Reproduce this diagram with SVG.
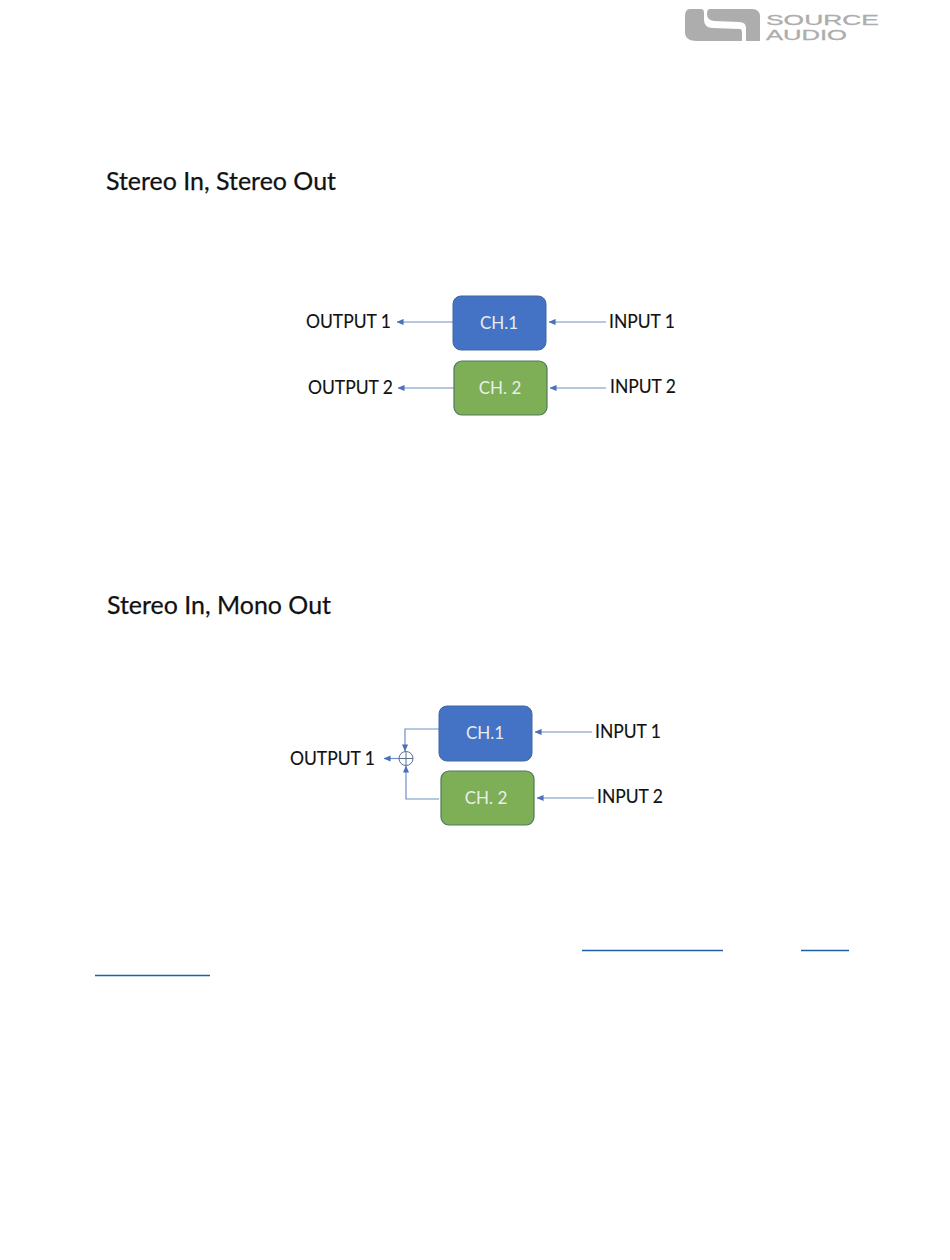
<svg xmlns="http://www.w3.org/2000/svg" width="950" height="1260" viewBox="0 0 950 1260">
<style>
text{font-family:Lato,"Liberation Sans",sans-serif;fill:#111}
.h{font-size:25.500px;stroke:#111;stroke-width:.25}
.l{font-size:19px;stroke:#111;stroke-width:.15}
.c{font-size:17px;fill:#e8eef0;text-anchor:middle}
.b{fill:#4472c4;stroke:#41699f;stroke-width:1}
.g{fill:#7eae55;stroke:#4f7a5f;stroke-width:1.2}
.w{fill:none;stroke:#6f8fc6;stroke-width:1.2}
.lnk{stroke:#1f5fae;stroke-width:1.3}
.logo{font-family:"Liberation Sans",sans-serif;font-size:15px;fill:#adadad;stroke:#adadad;stroke-width:.3}
</style>
<defs>
<marker id="a" viewBox="0 0 8 8" refX="7.500" refY="4" markerWidth="7" markerHeight="7" markerUnits="userSpaceOnUse" orient="auto"><path d="M0 0.500L8 4L0 7.500Z" fill="#4a70b8"/></marker>
</defs>
<rect width="950" height="1260" fill="#fff"/>
<g id="logo">
<path d="M690 9H701Q704 9 704 13V20Q704 27 712 28L740 29Q742 29 742 33V41H697Q685 41 685 32V16Q685 9 690 9Z" fill="#adadad"/>
<path d="M710 9H752Q760 9 760 17V41H746V28Q746 22 739 22L714 21Q707 20 707 14Q707 9 710 9Z" fill="#adadad"/>
<text class="logo" x="766" y="25" textLength="113" lengthAdjust="spacingAndGlyphs">SOURCE</text>
<text class="logo" x="766" y="40" textLength="81" lengthAdjust="spacingAndGlyphs">AUDIO</text>
</g>
<text class="h" x="106" y="190" textLength="230" lengthAdjust="spacingAndGlyphs">Stereo In, Stereo Out</text>
<text class="h" x="107" y="614" textLength="224" lengthAdjust="spacingAndGlyphs">Stereo In, Mono Out</text>
<g id="connectors">
<path class="w" d="M453 322H397" marker-end="url(#a)"/>
<path class="w" d="M606 322H549" marker-end="url(#a)"/>
<path class="w" d="M454 388H398" marker-end="url(#a)"/>
<path class="w" d="M606 388H550" marker-end="url(#a)"/>
<path class="w" d="M592 732H535" marker-end="url(#a)"/>
<path class="w" d="M594 798H537" marker-end="url(#a)"/>
<path class="w" d="M439 729H405V751" marker-end="url(#a)"/>
<path class="w" d="M439 799H406V766" marker-end="url(#a)"/>
<path class="w" d="M399 758.500H384" marker-end="url(#a)"/>
</g>
<g id="ch1a"><rect class="b" x="453" y="296" width="93" height="54" rx="8"/><text class="c" x="499" y="329">CH.1</text></g>
<g id="ch2a"><rect class="g" x="454" y="361" width="93" height="54" rx="8"/><text class="c" x="500" y="394">CH. 2</text></g>
<g id="ch1b"><rect class="b" x="439" y="706" width="93" height="55" rx="8"/><text class="c" x="485" y="739">CH.1</text></g>
<g id="ch2b"><rect class="g" x="441" y="771" width="93" height="54" rx="8"/><text class="c" x="486" y="804">CH. 2</text></g>
<g id="sum"><circle cx="406" cy="758.500" r="7" fill="none" stroke="#5c6f90" stroke-width="1"/><path d="M399 758.500H413M406 751.500V765.500" stroke="#5c6f90" stroke-width="1"/></g>
<g id="labels">
<text class="l" x="306" y="328" textLength="85" lengthAdjust="spacingAndGlyphs">OUTPUT 1</text>
<text class="l" x="308" y="394" textLength="85" lengthAdjust="spacingAndGlyphs">OUTPUT 2</text>
<text class="l" x="609" y="328" textLength="66" lengthAdjust="spacingAndGlyphs">INPUT 1</text>
<text class="l" x="610" y="393" textLength="66" lengthAdjust="spacingAndGlyphs">INPUT 2</text>
<text class="l" x="290" y="765" textLength="85" lengthAdjust="spacingAndGlyphs">OUTPUT 1</text>
<text class="l" x="595" y="738" textLength="66" lengthAdjust="spacingAndGlyphs">INPUT 1</text>
<text class="l" x="597" y="803" textLength="66" lengthAdjust="spacingAndGlyphs">INPUT 2</text>
</g>
<g id="links">
<path class="lnk" d="M582 950.500H723M801 950.500H849M95 975.500H210"/>
</g>
</svg>
